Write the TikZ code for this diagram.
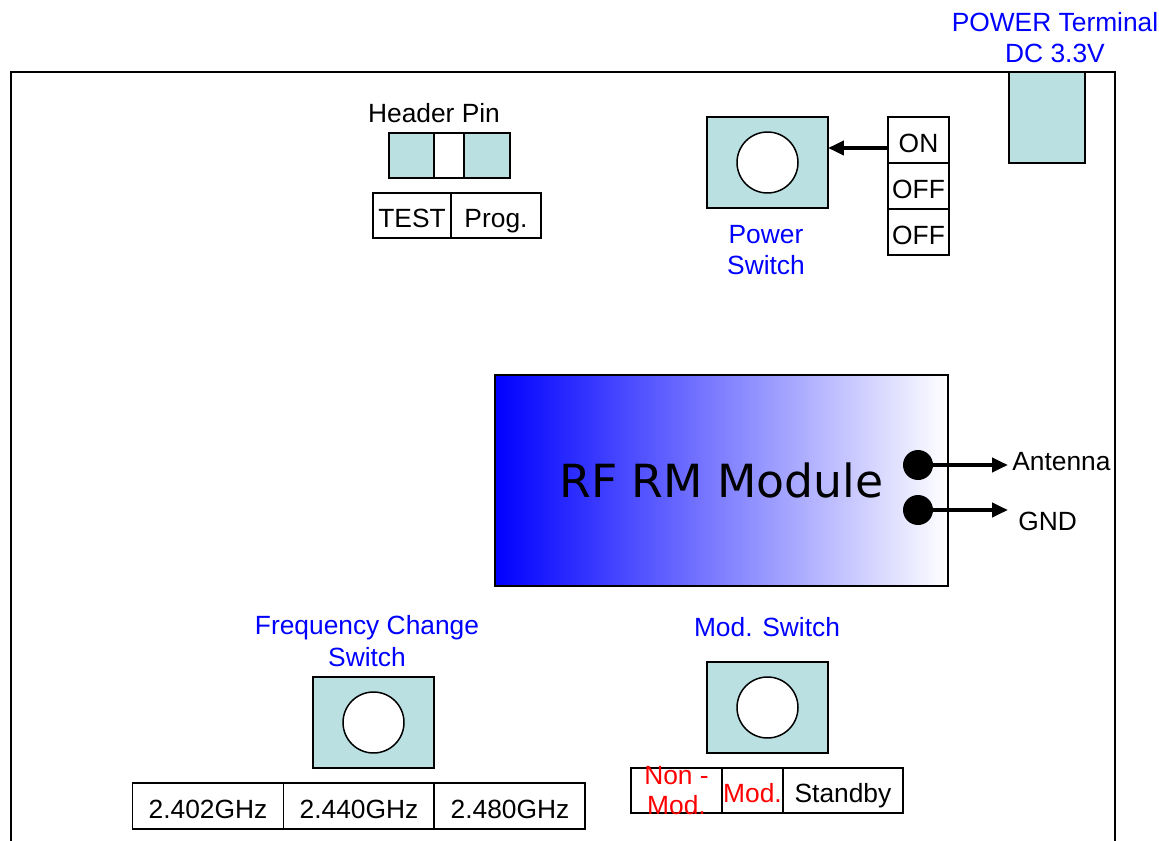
\documentclass[tikz,border=0pt]{standalone}
\usepackage{fontspec}
\setmainfont{Liberation Sans}
\newfontfamily\modfont{DejaVu Sans}
\usetikzlibrary{positioning,arrows.meta}
\definecolor{swcyan}{RGB}{186,224,226}

\tikzset{   swbox/.style={draw,fill=swcyan,minimum width=2.42cm,minimum height=1.82cm,inner sep=0pt,outer sep=0pt,line width=1.1pt},
            knob/.style={draw,circle,fill=white,minimum size=1.22cm,inner sep=0pt,line width=0.85pt},
            pinbox/.style={draw,fill=swcyan,minimum height=0.9cm,inner sep=0pt,outer sep=0pt,line width=1.1pt},
            selbox/.style={draw,fill=white,minimum height=0.92cm,inner sep=0pt,outer sep=0pt,line width=1.1pt,
                           text height=14pt,text depth=0pt},
            bluelbl/.style={text=blue,align=center,inner sep=0pt},
            redlbl/.style={text=red,align=center,inner sep=0pt,font=\fontsize{15}{17.5}\selectfont},
            dotpin/.style={circle,fill=black,minimum size=0.6cm,inner sep=0pt},
            ptr/.style={line width=2.2pt,-{Triangle[length=0.32cm,width=0.28cm]}},
}

\begin{document}
\begin{tikzpicture}[x=0.02cm,y=-0.02cm, every node/.style={font=\fontsize{15}{18}\selectfont}]
    \useasboundingbox (0,0) rectangle (1159,841);
    \draw[line width=1.1pt] (11,845) -- (11,72) -- (1115,72) -- (1115,845); % board outline

    % power terminal
    \node[swbox, minimum width=1.52cm] (term) at (1047,117.5) {};
    \node[bluelbl] (termlbl) at (1055,37.5) {POWER Terminal\\DC 3.3V};

    % header pin
    \node[anchor=base] (hdrlbl) at (434,123) {Header Pin};
    \node[pinbox, minimum width=0.9cm] (pinl) at (411.5,155.5) {};
    \node[pinbox, fill=white, minimum width=0.6cm, right=0pt of pinl] (pinm) {};
    \node[pinbox, minimum width=0.92cm, right=0pt of pinm] (pinr) {};
    \node[selbox, minimum width=1.56cm, minimum height=0.9cm] (test) at (412,215.5) {TEST};
    \node[selbox, minimum width=1.8cm, minimum height=0.9cm, right=0pt of test] (prog) {Prog.};

    % power switch
    \node[swbox] (pwr) at (767.5,162.5) {};
    \node[knob] (pwrknob) at (pwr) {};
    \node[selbox, minimum width=1.22cm] (on) at (918.5,140) {ON};
    \node[selbox, minimum width=1.22cm, below=0pt of on] (off1) {OFF};
    \node[selbox, minimum width=1.22cm, below=0pt of off1] (off2) {OFF};
    \coordinate (onpt) at ([yshift=-0.16cm]on.west);
    \draw[ptr] (onpt) -- (onpt -| pwr.east);
    \node[bluelbl] (pwrlbl) at (766,250) {Power\\Switch};

    % rf module
    \node[draw, line width=1.1pt, left color=blue, right color=white, minimum width=9.06cm, minimum height=4.22cm,
          font=\modfont\fontsize{26}{30}\selectfont] (rf) at (721.5,480.5) {RF RM Module};
    \coordinate (antend) at (1008,465);
    \coordinate (gndend) at (1008,510);
    \node[dotpin] (ant) at (918,465) {};
    \node[dotpin] (gnd) at (918,510) {};
    \draw[ptr] (ant.center) -- (antend);
    \draw[ptr] (gnd.center) -- (gndend);
    \node[anchor=base west, inner sep=0pt] (antlbl) at (1012,470) {Antenna};
    \node[anchor=base west, inner sep=0pt] (gndlbl) at (1018,530) {GND};

    % frequency change switch
    \node[bluelbl] (freqlbl) at (367,641) {Frequency Change\\Switch};
    \node[swbox] (freq) at (373.5,722.5) {};
    \node[knob] (freqknob) at (freq) {};
    \node[selbox, minimum width=3.02cm] (f402) at (208,806) {2.402GHz};
    \node[selbox, minimum width=3.02cm, right=0pt of f402] (f440) {2.440GHz};
    \node[selbox, minimum width=3.02cm, right=0pt of f440] (f480) {2.480GHz};

    % mod switch
    \node[bluelbl, anchor=base] (modlbl) at (767,636) {Mod. Switch};
    \node[swbox] (mod) at (767.5,707.5) {};
    \node[knob] (modknob) at (mod) {};
    \node[selbox, minimum width=1.82cm, minimum height=0.9cm, label={[redlbl]center:Non -\\Mod.}] (nonmod) at (676.5,790.5) {};
    \node[selbox, minimum width=1.22cm, minimum height=0.9cm, text=red, right=0pt of nonmod] (modsel) {Mod.};
    \node[selbox, minimum width=2.4cm, minimum height=0.9cm, right=0pt of modsel] (stby) {Standby};
\end{tikzpicture}
\end{document}
